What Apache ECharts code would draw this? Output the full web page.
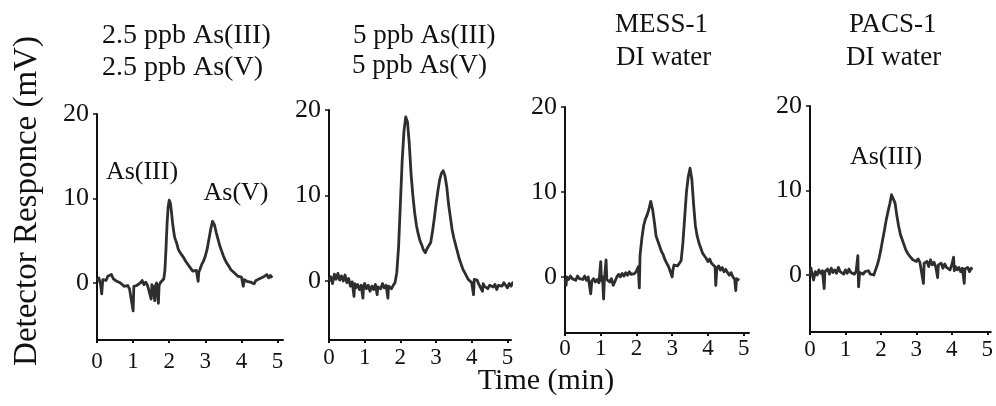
<!DOCTYPE html>
<html><head><meta charset="utf-8">
<script src="https://cdn.jsdelivr.net/npm/echarts@6/dist/echarts.min.js"></script>
<style>html,body{margin:0;padding:0;background:#fff}#c{width:996px;height:406px}</style>
</head><body><div id="c"></div>
<script>
// ---- data ----
const xTicks = [0, 1, 2, 3, 4, 5];
const yTicks = [0, 10, 20];
const yAxisTitle = 'Detector Responce (mV)';
const xAxisTitle = 'Time (min)';
const titles1 = ['2.5 ppb As(III)', '2.5 ppb As(V)'];
const titles2 = ['5 ppb As(III)', '5 ppb As(V)'];
const titles3 = ['MESS-1', 'DI water'];
const titles4 = ['PACS-1', 'DI water'];
const peakLabels1 = ['As(III)', 'As(V)'];
const peakLabels4 = ['As(III)'];

const trace1 = [[0.00,0.3],[0.05,0.6],[0.10,-0.2],[0.13,-1.3],[0.16,0.4],[0.20,0.5],[0.25,0.3],[0.30,0.8],[0.35,0.6],[0.40,1.0],[0.45,0.5],[0.50,0.7],[0.55,0.2],[0.60,0.4],[0.65,0.0],[0.70,-0.2],[0.75,-0.4],[0.80,-0.6],[0.85,-0.3],[0.90,-0.7],[0.95,-0.5],[1.00,-3.3],[1.02,-0.4],[1.05,-0.6],[1.10,-0.3],[1.15,-0.5],[1.20,0.0],[1.25,0.3],[1.30,-0.2],[1.35,0.1],[1.40,-0.3],[1.45,-0.1],[1.50,-1.9],[1.52,-0.2],[1.55,-0.5],[1.60,-2.1],[1.62,-0.3],[1.65,0.0],[1.70,-2.4],[1.72,-0.3],[1.75,0.0],[1.80,0.2],[1.85,0.5],[1.88,1.5],[1.91,4.0],[1.94,7.0],[1.97,9.0],[2.00,9.8],[2.03,9.5],[2.06,8.5],[2.09,7.2],[2.12,6.2],[2.15,5.4],[2.20,4.8],[2.25,4.0],[2.30,3.6],[2.35,3.3],[2.40,3.0],[2.45,2.6],[2.50,2.3],[2.55,2.0],[2.60,1.9],[2.65,1.4],[2.70,1.2],[2.75,1.5],[2.80,0.2],[2.82,1.3],[2.85,1.6],[2.90,2.2],[2.95,2.6],[3.00,3.2],[3.05,4.0],[3.10,5.2],[3.15,6.4],[3.20,7.3],[3.25,6.9],[3.30,6.0],[3.35,5.2],[3.40,4.4],[3.45,3.8],[3.50,3.2],[3.55,2.7],[3.60,2.3],[3.65,2.0],[3.70,1.6],[3.75,1.5],[3.80,1.2],[3.85,1.0],[3.90,0.8],[3.95,0.6],[4.00,0.7],[4.05,-0.4],[4.08,0.4],[4.10,0.3],[4.15,0.2],[4.20,0.4],[4.25,0.1],[4.30,0.3],[4.35,-0.1],[4.40,0.3],[4.45,0.2],[4.50,0.5],[4.55,0.4],[4.60,0.7],[4.65,0.6],[4.70,1.0],[4.75,0.6],[4.80,0.9],[4.85,0.6]];

const trace2 = [[0.00,0.0],[0.05,0.5],[0.10,-0.3],[0.15,0.8],[0.20,0.2],[0.25,0.9],[0.30,0.1],[0.35,0.6],[0.40,0.0],[0.45,0.7],[0.50,-0.2],[0.55,0.3],[0.60,-0.6],[0.65,-0.1],[0.70,-1.8],[0.72,-0.3],[0.75,-0.8],[0.80,-0.4],[0.85,-1.0],[0.90,-0.5],[0.95,-2.0],[0.97,-0.6],[1.00,-0.3],[1.05,-0.9],[1.10,-0.5],[1.15,-1.2],[1.20,-0.6],[1.25,-1.0],[1.30,-0.4],[1.35,-1.6],[1.37,-0.7],[1.40,-0.5],[1.45,-0.9],[1.50,-0.3],[1.55,-0.8],[1.60,-0.5],[1.65,-2.0],[1.67,-0.6],[1.70,-0.4],[1.75,-0.9],[1.80,-0.5],[1.85,-0.2],[1.90,1.0],[1.95,4.0],[2.00,9.0],[2.05,14.0],[2.10,17.5],[2.15,19.2],[2.20,18.6],[2.25,16.0],[2.30,12.5],[2.35,10.0],[2.40,8.0],[2.45,6.5],[2.50,5.5],[2.55,4.7],[2.60,4.2],[2.65,3.6],[2.70,3.3],[2.75,3.8],[2.80,3.6],[2.85,4.5],[2.90,5.8],[2.95,7.3],[3.00,9.0],[3.05,10.5],[3.10,11.8],[3.15,12.6],[3.20,12.9],[3.25,12.3],[3.30,11.0],[3.35,9.0],[3.40,7.5],[3.45,6.0],[3.50,5.0],[3.55,4.2],[3.60,3.4],[3.65,2.6],[3.70,2.0],[3.75,1.4],[3.80,1.0],[3.85,0.6],[3.90,0.2],[3.95,0.3],[4.00,-0.2],[4.05,-1.6],[4.07,0.2],[4.10,0.0],[4.15,0.1],[4.20,-0.4],[4.25,-0.2],[4.30,-1.2],[4.32,-0.3],[4.35,-0.6],[4.40,-0.4],[4.45,-0.9],[4.50,-0.5],[4.55,-0.3],[4.60,-0.7],[4.65,-0.4],[4.70,-1.0],[4.75,-0.5],[4.80,-0.3],[4.85,-0.6],[4.90,-0.2],[4.95,-0.5],[5.00,-0.8],[5.05,-0.3],[5.10,-0.6],[5.15,-0.2],[5.20,-0.5],[5.25,-0.3]];

const trace3 = [[0.00,-0.3],[0.03,-1.0],[0.05,0.0],[0.10,-0.3],[0.15,0.1],[0.20,-0.2],[0.25,0.0],[0.30,-0.4],[0.35,0.1],[0.40,-0.2],[0.45,0.0],[0.50,-0.3],[0.55,0.1],[0.60,-0.4],[0.65,0.0],[0.70,-0.2],[0.72,-2.0],[0.75,-0.5],[0.80,-0.2],[0.85,-0.6],[0.90,-0.3],[0.95,-0.7],[1.00,1.8],[1.02,-0.4],[1.05,0.0],[1.08,-2.6],[1.10,-0.5],[1.15,2.0],[1.17,-0.3],[1.20,-0.1],[1.25,-0.6],[1.30,-0.2],[1.35,-1.0],[1.40,-0.5],[1.45,0.0],[1.50,0.3],[1.55,0.0],[1.60,0.4],[1.65,0.1],[1.70,0.5],[1.75,0.2],[1.80,0.6],[1.85,0.3],[1.90,0.5],[1.95,0.4],[2.00,0.7],[2.05,1.2],[2.08,-1.3],[2.10,2.5],[2.15,4.5],[2.20,6.0],[2.25,6.8],[2.30,7.3],[2.35,8.0],[2.40,8.9],[2.45,8.0],[2.50,6.5],[2.55,4.8],[2.60,4.2],[2.65,3.6],[2.70,3.0],[2.75,2.6],[2.80,2.0],[2.85,1.6],[2.90,1.2],[2.95,0.6],[3.00,0.0],[3.02,0.8],[3.05,1.4],[3.10,1.6],[3.15,1.3],[3.20,1.5],[3.25,1.9],[3.30,4.0],[3.35,7.0],[3.40,10.0],[3.45,11.8],[3.50,12.8],[3.55,11.5],[3.60,8.5],[3.65,6.0],[3.70,4.8],[3.75,4.0],[3.80,3.4],[3.85,2.8],[3.90,2.5],[3.95,2.2],[4.00,1.8],[4.05,2.1],[4.10,1.6],[4.15,1.8],[4.20,1.2],[4.22,-1.0],[4.25,1.0],[4.30,1.3],[4.35,0.8],[4.40,1.1],[4.45,0.6],[4.50,0.9],[4.55,0.5],[4.60,0.2],[4.65,0.5],[4.70,0.0],[4.75,-0.3],[4.78,-1.6],[4.80,-0.2],[4.85,0.0],[4.88,-0.4]];

const trace4 = [[0.00,-0.1],[0.03,0.8],[0.05,0.3],[0.10,-0.6],[0.15,0.4],[0.20,0.0],[0.25,0.6],[0.30,0.2],[0.35,0.5],[0.40,-1.6],[0.42,0.4],[0.45,0.2],[0.50,0.7],[0.55,0.1],[0.60,0.8],[0.65,0.3],[0.70,0.6],[0.75,0.2],[0.80,0.9],[0.85,0.4],[0.90,0.5],[0.95,0.1],[1.00,0.6],[1.05,0.2],[1.10,0.7],[1.15,0.3],[1.20,0.5],[1.25,0.1],[1.30,0.4],[1.35,2.3],[1.37,-1.4],[1.40,0.3],[1.45,0.5],[1.50,0.1],[1.55,0.4],[1.60,0.2],[1.65,0.5],[1.70,0.1],[1.75,0.3],[1.80,0.0],[1.85,0.6],[1.90,1.2],[1.95,2.0],[2.00,3.0],[2.05,4.2],[2.10,5.3],[2.15,6.5],[2.20,7.5],[2.25,8.4],[2.30,9.5],[2.35,9.7],[2.40,8.5],[2.45,7.0],[2.50,5.8],[2.55,4.8],[2.60,4.2],[2.65,3.6],[2.70,3.0],[2.75,2.6],[2.80,2.3],[2.85,2.1],[2.90,1.8],[2.95,2.0],[3.00,1.6],[3.05,1.9],[3.10,1.5],[3.15,1.7],[3.20,-1.0],[3.22,1.4],[3.25,1.2],[3.30,1.6],[3.35,1.0],[3.40,1.8],[3.45,1.2],[3.50,1.5],[3.55,0.9],[3.60,-0.3],[3.62,1.2],[3.65,1.0],[3.70,1.4],[3.75,0.8],[3.80,1.3],[3.85,0.9],[3.90,1.1],[3.95,0.6],[4.00,1.2],[4.05,2.1],[4.07,0.5],[4.10,1.0],[4.15,0.6],[4.20,0.9],[4.25,0.4],[4.30,0.8],[4.35,-1.0],[4.37,0.7],[4.40,0.5],[4.45,0.9],[4.50,0.4],[4.55,0.8],[4.57,0.6]];

// ---- layout / styling ----
const FONT = "'Liberation Serif', 'Times New Roman', serif";
const INK = '#111';
const LINE = '#2e2e2e';
const panels = [
  {grid:{left:97, top:114, width:186, height:226}, ymin:-6.75, xmax:5.15, margin:10, data:trace1, clip:true},
  {grid:{left:329, top:110, width:182, height:230}, ymin:-6.9, xmax:5.1, margin:6, data:trace2, clip:false},
  {grid:{left:565, top:107, width:184, height:226}, ymin:-6.6, xmax:5.15, margin:4, data:trace3, clip:true},
  {grid:{left:810, top:106, width:184, height:226}, ymin:-6.75, xmax:5.1, margin:6, data:trace4, clip:true}
];

const grid = panels.map(p => p.grid);
const xAxis = panels.map((p, i) => ({
  type:'value', gridIndex:i, min:0, max:p.xmax,
  axisLine:{show:true, onZero:false, lineStyle:{color:INK, width:2}},
  axisTick:{show:true, length:3, customValues:xTicks, lineStyle:{color:INK, width:2}},
  axisLabel:{show:true, customValues:xTicks, margin:p.margin, fontFamily:FONT, fontSize:23, color:INK},
  splitLine:{show:false}
}));
const yAxis = panels.map((p, i) => ({
  type:'value', gridIndex:i, min:p.ymin, max:20,
  axisLine:{show:true, onZero:false, lineStyle:{color:INK, width:2}},
  axisTick:{show:true, length:4, customValues:yTicks, lineStyle:{color:INK, width:1.5}},
  axisLabel:{show:true, customValues:yTicks, margin:8, fontFamily:FONT, fontSize:26, color:INK},
  splitLine:{show:false}
}));
const series = panels.map((p, i) => ({
  type:'line', xAxisIndex:i, yAxisIndex:i, data:p.data, showSymbol:false, symbol:'none',
  clip:p.clip, lineStyle:{color:LINE, width:2.8, join:'round'}, animation:false
}));

function txt(x, y, s, size, align) {
  return {type:'text', x:x, y:y, style:{text:s, fontFamily:FONT, fontSize:size, fill:INK, align:align || 'left', verticalAlign:'middle'}};
}
const graphic = [
  txt(102, 36, titles1[0], 28), txt(102, 68, titles1[1], 28),
  txt(353, 36, titles2[0], 27), txt(352, 66, titles2[1], 27),
  txt(615, 25, titles3[0], 27), txt(616, 58, titles3[1], 27),
  txt(849, 25, titles4[0], 27), txt(846, 58, titles4[1], 27),
  txt(142, 172, peakLabels1[0], 26, 'center'), txt(236, 193, peakLabels1[1], 26, 'center'),
  txt(886, 157, peakLabels4[0], 26, 'center'),
  txt(546, 381, xAxisTitle, 30, 'center'),
  {type:'text', x:27, y:201, rotation:Math.PI/2, style:{text:yAxisTitle, fontFamily:FONT, fontSize:33, fill:INK, align:'center', verticalAlign:'middle'}}
];

const chart = echarts.init(document.getElementById('c'), null, {renderer:'canvas'});
chart.setOption({animation:false, backgroundColor:'#fff', grid, xAxis, yAxis, series, graphic});
</script>
</body></html>
